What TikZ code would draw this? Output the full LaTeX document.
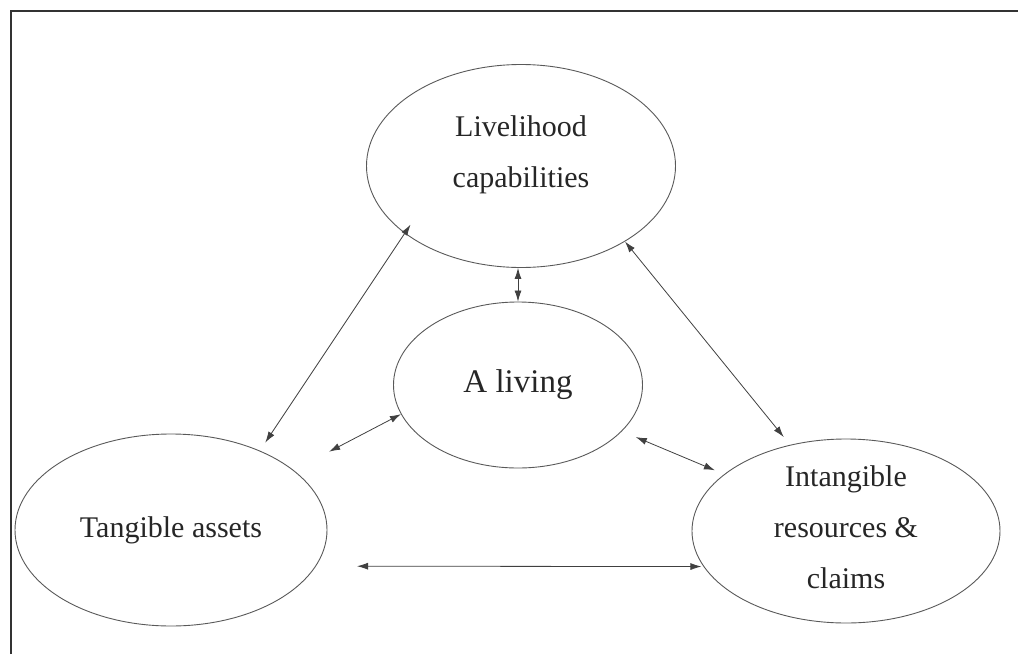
\documentclass[tikz,border=0pt]{standalone}
\usepackage{fontspec}
\setmainfont{Liberation Serif}
\usetikzlibrary{arrows.meta,shapes.geometric}
\begin{document}
\begin{tikzpicture}[x=1pt,y=-1pt,
  ell/.style={draw=black!65, line width=0.9pt, ellipse, inner sep=0pt},
  lbl/.style={font=\fontsize{30}{51}\selectfont, align=center, inner sep=0pt, text=black!85},
  link/.style={{Latex[length=11pt,width=7pt]}-{Latex[length=11pt,width=7pt]}, draw=black!75, line width=0.8pt}]
\useasboundingbox (0,0) rectangle (1018,654);
\draw[line width=2pt, black!80] (11,654) -- (11,11) -- (1018,11);
% ellipses
\node[ell, minimum width=309, minimum height=203] (lc) at (521,166) {};
\node[lbl] (lct) at (521,155) {Livelihood\\capabilities};
\node[ell, lbl, font=\fontsize{33}{40}\selectfont, minimum width=249, minimum height=166] (al) at (518,385) {A living};
\node[ell, lbl, minimum width=312, minimum height=192] (ta) at (171,530) {Tangible assets};
\node[ell, minimum width=308, minimum height=184] (ic) at (846,531) {};
\node[lbl] (ict) at (846,527) {Intangible\\resources \&\\claims};
% connectors
\draw[link] (al.north |- lc.south) -- (al.north);
\draw[link] ([shift={(8,-7)}]lc.209) -- ([shift={(8,-7)}]ta.43);
\draw[link, shorten >=10pt] (lc.324) -- (ic.123);
\draw[link, shorten >=40pt] (al.194) -- (ta.26);
\draw[link, shorten <=15pt, shorten >=10pt] (al.336) -- (ic.155);
\draw[link, shorten <=41pt, shorten >=2pt] (ta.-14.9) -- (ic.194.7);
\end{tikzpicture}
\end{document}
